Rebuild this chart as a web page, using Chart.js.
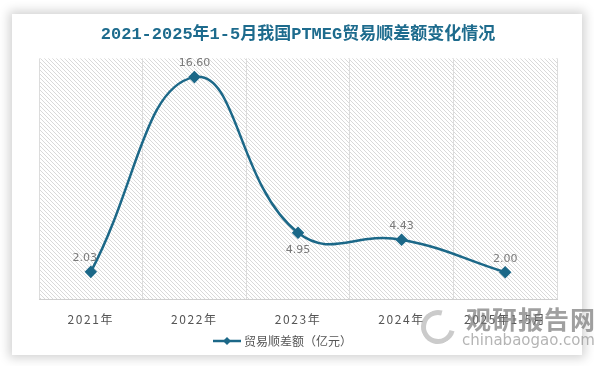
<!DOCTYPE html>
<html><head><meta charset="utf-8">
<script src="https://cdn.jsdelivr.net/npm/chart.js@4"></script>
<style>
html,body{margin:0;padding:0;background:#fff;width:594px;height:366px;overflow:hidden;}
#card{position:absolute;left:12px;top:14px;width:570px;height:341px;background:#fff;box-shadow:0 0 10px 3px rgba(0,0,0,0.18);}
#wm0{position:absolute;left:421px;top:310px;width:24px;height:24px;border:5px solid rgba(160,160,160,0.55);border-right-color:transparent;border-radius:50%;transform:rotate(-30deg);}
#wm1{position:absolute;left:466px;top:303px;font:bold 25px "Noto Sans CJK SC";line-height:30px;color:rgba(120,120,120,0.7);letter-spacing:1px;white-space:nowrap;}
#wm2{position:absolute;left:462px;top:331px;font:15px "DejaVu Sans";line-height:18px;color:rgba(140,140,140,0.65);white-space:nowrap;}
</style></head>
<body>
<div id="card"><canvas id="c" width="570" height="341"></canvas></div>
<div id="wm0"></div>
<div id="wm1">观研报告网</div>
<div id="wm2">chinabaogao.com</div>
<script>
const categories = ['2021年','2022年','2023年','2024年','2025年1-5月'];
const seriesName = '贸易顺差额（亿元）';
const values = [2.03, 16.60, 4.95, 4.43, 2.00];
const labelSide = ['above','above','below','above','above'];

const lineColor = '#1c6888';

// hatch pattern
const pc = document.createElement('canvas'); pc.width = 4; pc.height = 4;
const px = pc.getContext('2d');
px.fillStyle = '#fff'; px.fillRect(0,0,4,4);
px.strokeStyle = '#d9d9d9'; px.lineWidth = 1;
px.beginPath(); px.moveTo(0,0); px.lineTo(4,4); px.moveTo(-1,3); px.lineTo(1,5); px.moveTo(3,-1); px.lineTo(5,1); px.stroke();
const pattern = px.createPattern(pc, 'repeat');

// legend icon
const li = document.createElement('canvas'); li.width = 28; li.height = 10;
const lx = li.getContext('2d');
lx.strokeStyle = lineColor; lx.lineWidth = 2.5;
lx.beginPath(); lx.moveTo(0,5); lx.lineTo(28,5); lx.stroke();
lx.fillStyle = lineColor; lx.beginPath(); lx.moveTo(14,1); lx.lineTo(18,5); lx.lineTo(14,9); lx.lineTo(10,5); lx.closePath(); lx.fill();

const bgPlugin = {
  id:'bg',
  beforeDraw(chart){
    const a = chart.chartArea, ctx = chart.ctx;
    ctx.save(); ctx.fillStyle = pattern; ctx.fillRect(a.left, a.top, a.right-a.left, a.bottom-a.top); ctx.restore();
  },
  afterLayout(chart){
    const s = chart.scales.x;
    if (!s._lsPatched){
      const orig = s.drawLabels.bind(s);
      s.drawLabels = function(ca){ const c = chart.ctx; c.save(); c.letterSpacing = '1.6px'; orig(ca); c.restore(); };
      s._lsPatched = true;
    }
    if (chart.legend){ chart.legend.left -= 14; chart.legend.right -= 14; }
  }
};
const labelPlugin = {
  id:'lbl',
  afterDatasetsDraw(chart){
    const ctx = chart.ctx, meta = chart.getDatasetMeta(0);
    ctx.save(); ctx.font = '11px "DejaVu Sans"'; ctx.fillStyle = '#7a7a7a'; ctx.textAlign = 'center';
    meta.data.forEach((p,i)=>{
      const v = values[i].toFixed(2);
      if (labelSide[i]==='below'){ ctx.textBaseline='top'; ctx.fillText(v, p.x, p.y+12); }
      else { ctx.textBaseline='bottom'; ctx.fillText(v, p.x - (i===0?6:0), p.y-8); }
    });
    ctx.restore();
  }
};

new Chart(document.getElementById('c'), {
  type:'line',
  data:{ labels:categories, datasets:[{
    label:seriesName, data:values, borderColor:lineColor, backgroundColor:lineColor,
    borderWidth:2.5, tension:0.45,
    pointStyle:'rectRot', pointRadius:4.5, pointHoverRadius:4.5, pointBackgroundColor:lineColor, pointBorderColor:lineColor
  }]},
  options:{
    responsive:false, animation:false, events:[],
    layout:{padding:{left:27,right:25,top:0,bottom:-2}},
    plugins:{
      title:{display:true, text:'2021-2025年1-5月我国PTMEG贸易顺差额变化情况', color:'#1d6b8d',
        font:{family:'"Liberation Mono","Noto Sans CJK SC"', size:17, weight:'bold'}, padding:{top:11,bottom:13}},
      legend:{display:true, position:'bottom', labels:{usePointStyle:true, pointStyle:li, pointStyleWidth:22, color:'#555',
        font:{family:'"Noto Sans CJK SC"', size:12}, padding:0, boxHeight:10}},
      tooltip:{enabled:false}
    },
    scales:{
      x:{offset:true, grid:{offset:true, color:'#dcdcdc', drawTicks:false}, border:{color:'#cfcfcf'},
        ticks:{color:'#555', font:{family:'"Noto Sans CJK SC"', size:12, lineHeight:1}, padding:14},
        afterFit(s){ s.height = s.height - 4; }},
      y:{display:false, min:0, max:18}
    }
  },
  plugins:[bgPlugin, labelPlugin]
});
</script>
</body></html>
